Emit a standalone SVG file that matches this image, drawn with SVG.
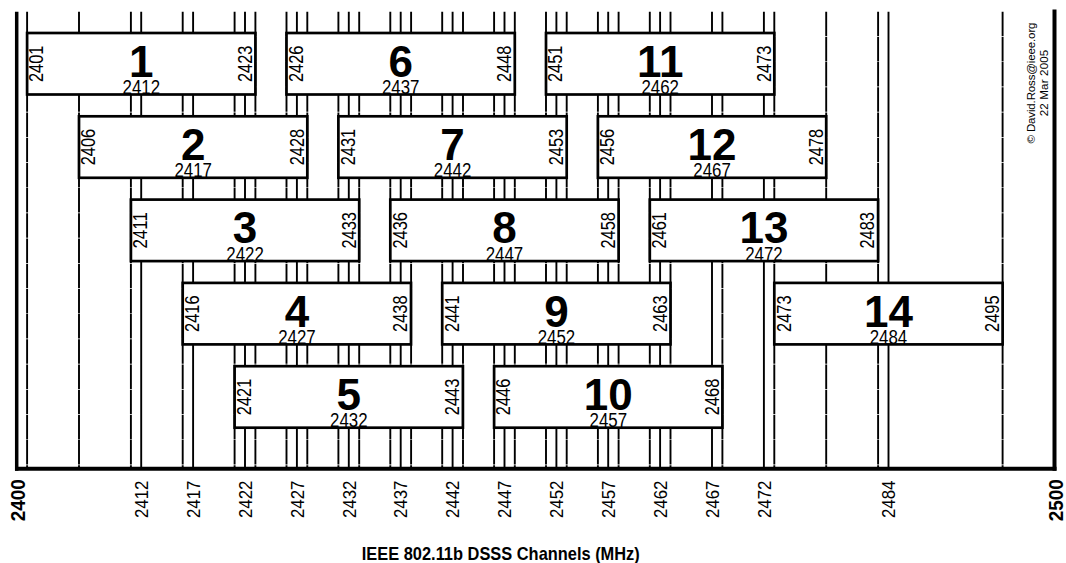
<svg xmlns="http://www.w3.org/2000/svg" width="1066" height="563" viewBox="0 0 1066 563">
<style>
  .g line{stroke:#000;stroke-width:1.9}
  .g .e{stroke-dasharray:24.5 0.7}
  .box{fill:#fff;stroke:#000;stroke-width:2.7}
  text{font-family:"Liberation Sans",Arial,sans-serif;fill:#000}
  .num{font-weight:bold;font-size:44px;text-anchor:middle}
  .lbl{font-size:20.5px;text-anchor:middle}
  .ax{font-size:18.6px;text-anchor:end}
  .axb{font-size:21px;font-weight:bold;text-anchor:end}
  .ttl{font-size:18.6px;font-weight:bold;text-anchor:middle}
  .cp{font-size:11.5px;text-anchor:middle}
</style>
<rect width="1066" height="563" fill="#fff"/>
<g id="gridlines" class="g">
  <line class="e" x1="27.1" y1="11.7" x2="27.1" y2="467"/>
  <line class="e" x1="79.0" y1="11.7" x2="79.0" y2="467"/>
  <line class="e" x1="130.9" y1="11.7" x2="130.9" y2="467"/>
  <line x1="141.2" y1="11.7" x2="141.2" y2="467"/>
  <line class="e" x1="182.7" y1="11.7" x2="182.7" y2="467"/>
  <line x1="193.1" y1="11.7" x2="193.1" y2="467"/>
  <line class="e" x1="234.6" y1="11.7" x2="234.6" y2="467"/>
  <line x1="245.0" y1="11.7" x2="245.0" y2="467"/>
  <line class="e" x1="255.4" y1="11.7" x2="255.4" y2="467"/>
  <line class="e" x1="286.5" y1="11.7" x2="286.5" y2="467"/>
  <line x1="296.9" y1="11.7" x2="296.9" y2="467"/>
  <line class="e" x1="307.3" y1="11.7" x2="307.3" y2="467"/>
  <line class="e" x1="338.4" y1="11.7" x2="338.4" y2="467"/>
  <line x1="348.8" y1="11.7" x2="348.8" y2="467"/>
  <line class="e" x1="359.2" y1="11.7" x2="359.2" y2="467"/>
  <line class="e" x1="390.3" y1="11.7" x2="390.3" y2="467"/>
  <line x1="400.7" y1="11.7" x2="400.7" y2="467"/>
  <line class="e" x1="411.1" y1="11.7" x2="411.1" y2="467"/>
  <line class="e" x1="442.2" y1="11.7" x2="442.2" y2="467"/>
  <line x1="452.6" y1="11.7" x2="452.6" y2="467"/>
  <line class="e" x1="463.0" y1="11.7" x2="463.0" y2="467"/>
  <line class="e" x1="494.1" y1="11.7" x2="494.1" y2="467"/>
  <line x1="504.5" y1="11.7" x2="504.5" y2="467"/>
  <line class="e" x1="514.8" y1="11.7" x2="514.8" y2="467"/>
  <line class="e" x1="546.0" y1="11.7" x2="546.0" y2="467"/>
  <line x1="556.4" y1="11.7" x2="556.4" y2="467"/>
  <line class="e" x1="566.7" y1="11.7" x2="566.7" y2="467"/>
  <line class="e" x1="597.9" y1="11.7" x2="597.9" y2="467"/>
  <line x1="608.2" y1="11.7" x2="608.2" y2="467"/>
  <line class="e" x1="618.6" y1="11.7" x2="618.6" y2="467"/>
  <line class="e" x1="649.8" y1="11.7" x2="649.8" y2="467"/>
  <line x1="660.1" y1="11.7" x2="660.1" y2="467"/>
  <line class="e" x1="670.5" y1="11.7" x2="670.5" y2="467"/>
  <line x1="712.0" y1="11.7" x2="712.0" y2="467"/>
  <line class="e" x1="722.4" y1="11.7" x2="722.4" y2="467"/>
  <line x1="763.9" y1="11.7" x2="763.9" y2="467"/>
  <line class="e" x1="774.3" y1="11.7" x2="774.3" y2="467"/>
  <line class="e" x1="826.2" y1="11.7" x2="826.2" y2="467"/>
  <line class="e" x1="878.1" y1="11.7" x2="878.1" y2="467"/>
  <line x1="888.5" y1="11.7" x2="888.5" y2="467"/>
  <line class="e" x1="1002.6" y1="11.7" x2="1002.6" y2="467"/>
</g>
<g id="axis">
  <line x1="16.7" y1="11.7" x2="16.7" y2="470.7" stroke="#000" stroke-width="3.5"/>
  <line x1="1054.5" y1="9.5" x2="1054.5" y2="470.7" stroke="#000" stroke-width="4"/>
  <line x1="15" y1="468.7" x2="1056.5" y2="468.7" stroke="#000" stroke-width="4"/>
  <text class="axb" transform="translate(25,479.3) rotate(-90)" textLength="42" lengthAdjust="spacingAndGlyphs">2400</text>
  <text class="ax" transform="translate(147.9,480.5) rotate(-90)" textLength="37.5" lengthAdjust="spacingAndGlyphs">2412</text>
  <text class="ax" transform="translate(199.8,480.5) rotate(-90)" textLength="37.5" lengthAdjust="spacingAndGlyphs">2417</text>
  <text class="ax" transform="translate(251.7,480.5) rotate(-90)" textLength="37.5" lengthAdjust="spacingAndGlyphs">2422</text>
  <text class="ax" transform="translate(303.6,480.5) rotate(-90)" textLength="37.5" lengthAdjust="spacingAndGlyphs">2427</text>
  <text class="ax" transform="translate(355.5,480.5) rotate(-90)" textLength="37.5" lengthAdjust="spacingAndGlyphs">2432</text>
  <text class="ax" transform="translate(407.4,480.5) rotate(-90)" textLength="37.5" lengthAdjust="spacingAndGlyphs">2437</text>
  <text class="ax" transform="translate(459.3,480.5) rotate(-90)" textLength="37.5" lengthAdjust="spacingAndGlyphs">2442</text>
  <text class="ax" transform="translate(511.2,480.5) rotate(-90)" textLength="37.5" lengthAdjust="spacingAndGlyphs">2447</text>
  <text class="ax" transform="translate(563.1,480.5) rotate(-90)" textLength="37.5" lengthAdjust="spacingAndGlyphs">2452</text>
  <text class="ax" transform="translate(614.9,480.5) rotate(-90)" textLength="37.5" lengthAdjust="spacingAndGlyphs">2457</text>
  <text class="ax" transform="translate(666.8,480.5) rotate(-90)" textLength="37.5" lengthAdjust="spacingAndGlyphs">2462</text>
  <text class="ax" transform="translate(718.7,480.5) rotate(-90)" textLength="37.5" lengthAdjust="spacingAndGlyphs">2467</text>
  <text class="ax" transform="translate(770.6,480.5) rotate(-90)" textLength="37.5" lengthAdjust="spacingAndGlyphs">2472</text>
  <text class="ax" transform="translate(895.2,480.5) rotate(-90)" textLength="37.5" lengthAdjust="spacingAndGlyphs">2484</text>
  <text class="axb" transform="translate(1063.3,479.3) rotate(-90)" textLength="42" lengthAdjust="spacingAndGlyphs">2500</text>
  <text class="ttl" x="500.8" y="560" textLength="278" lengthAdjust="spacingAndGlyphs">IEEE 802.11b DSSS Channels (MHz)</text>
</g>
<g id="credit">
  <text class="cp" transform="translate(1035,83) rotate(-90)" textLength="121" lengthAdjust="spacing">© David.Ross@ieee.org</text>
  <text class="cp" transform="translate(1048,83) rotate(-90)" textLength="66.5" lengthAdjust="spacing">22 Mar 2005</text>
</g>
<defs>
  <g id="boxshape"><rect class="box" x="0" y="0" width="228.3" height="61.5"/></g>
</defs>
<g id="ch1" transform="translate(27.1,33)"><use href="#boxshape"/><text class="num" x="114.2" y="43.8">1</text><text class="lbl" x="114.2" y="61.2" textLength="37.5" lengthAdjust="spacingAndGlyphs">2412</text><text class="lbl" transform="translate(16.3,30.75) rotate(-90)" textLength="36.5" lengthAdjust="spacingAndGlyphs">2401</text><text class="lbl" transform="translate(224.6,30.75) rotate(-90)" textLength="36.5" lengthAdjust="spacingAndGlyphs">2423</text></g>
<g id="ch2" transform="translate(79.0,116.3)"><use href="#boxshape"/><text class="num" x="114.2" y="43.8">2</text><text class="lbl" x="114.2" y="61.2" textLength="37.5" lengthAdjust="spacingAndGlyphs">2417</text><text class="lbl" transform="translate(16.3,30.75) rotate(-90)" textLength="36.5" lengthAdjust="spacingAndGlyphs">2406</text><text class="lbl" transform="translate(224.6,30.75) rotate(-90)" textLength="36.5" lengthAdjust="spacingAndGlyphs">2428</text></g>
<g id="ch3" transform="translate(130.9,199.6)"><use href="#boxshape"/><text class="num" x="114.2" y="43.8">3</text><text class="lbl" x="114.2" y="61.2" textLength="37.5" lengthAdjust="spacingAndGlyphs">2422</text><text class="lbl" transform="translate(16.3,30.75) rotate(-90)" textLength="36.5" lengthAdjust="spacingAndGlyphs">2411</text><text class="lbl" transform="translate(224.6,30.75) rotate(-90)" textLength="36.5" lengthAdjust="spacingAndGlyphs">2433</text></g>
<g id="ch4" transform="translate(182.7,282.9)"><use href="#boxshape"/><text class="num" x="114.2" y="43.8">4</text><text class="lbl" x="114.2" y="61.2" textLength="37.5" lengthAdjust="spacingAndGlyphs">2427</text><text class="lbl" transform="translate(16.3,30.75) rotate(-90)" textLength="36.5" lengthAdjust="spacingAndGlyphs">2416</text><text class="lbl" transform="translate(224.6,30.75) rotate(-90)" textLength="36.5" lengthAdjust="spacingAndGlyphs">2438</text></g>
<g id="ch5" transform="translate(234.6,366.2)"><use href="#boxshape"/><text class="num" x="114.2" y="43.8">5</text><text class="lbl" x="114.2" y="61.2" textLength="37.5" lengthAdjust="spacingAndGlyphs">2432</text><text class="lbl" transform="translate(16.3,30.75) rotate(-90)" textLength="36.5" lengthAdjust="spacingAndGlyphs">2421</text><text class="lbl" transform="translate(224.6,30.75) rotate(-90)" textLength="36.5" lengthAdjust="spacingAndGlyphs">2443</text></g>
<g id="ch6" transform="translate(286.5,33)"><use href="#boxshape"/><text class="num" x="114.2" y="43.8">6</text><text class="lbl" x="114.2" y="61.2" textLength="37.5" lengthAdjust="spacingAndGlyphs">2437</text><text class="lbl" transform="translate(16.3,30.75) rotate(-90)" textLength="36.5" lengthAdjust="spacingAndGlyphs">2426</text><text class="lbl" transform="translate(224.6,30.75) rotate(-90)" textLength="36.5" lengthAdjust="spacingAndGlyphs">2448</text></g>
<g id="ch7" transform="translate(338.4,116.3)"><use href="#boxshape"/><text class="num" x="114.2" y="43.8">7</text><text class="lbl" x="114.2" y="61.2" textLength="37.5" lengthAdjust="spacingAndGlyphs">2442</text><text class="lbl" transform="translate(16.3,30.75) rotate(-90)" textLength="36.5" lengthAdjust="spacingAndGlyphs">2431</text><text class="lbl" transform="translate(224.6,30.75) rotate(-90)" textLength="36.5" lengthAdjust="spacingAndGlyphs">2453</text></g>
<g id="ch8" transform="translate(390.3,199.6)"><use href="#boxshape"/><text class="num" x="114.2" y="43.8">8</text><text class="lbl" x="114.2" y="61.2" textLength="37.5" lengthAdjust="spacingAndGlyphs">2447</text><text class="lbl" transform="translate(16.3,30.75) rotate(-90)" textLength="36.5" lengthAdjust="spacingAndGlyphs">2436</text><text class="lbl" transform="translate(224.6,30.75) rotate(-90)" textLength="36.5" lengthAdjust="spacingAndGlyphs">2458</text></g>
<g id="ch9" transform="translate(442.2,282.9)"><use href="#boxshape"/><text class="num" x="114.2" y="43.8">9</text><text class="lbl" x="114.2" y="61.2" textLength="37.5" lengthAdjust="spacingAndGlyphs">2452</text><text class="lbl" transform="translate(16.3,30.75) rotate(-90)" textLength="36.5" lengthAdjust="spacingAndGlyphs">2441</text><text class="lbl" transform="translate(224.6,30.75) rotate(-90)" textLength="36.5" lengthAdjust="spacingAndGlyphs">2463</text></g>
<g id="ch10" transform="translate(494.1,366.2)"><use href="#boxshape"/><text class="num" x="114.2" y="43.8">10</text><text class="lbl" x="114.2" y="61.2" textLength="37.5" lengthAdjust="spacingAndGlyphs">2457</text><text class="lbl" transform="translate(16.3,30.75) rotate(-90)" textLength="36.5" lengthAdjust="spacingAndGlyphs">2446</text><text class="lbl" transform="translate(224.6,30.75) rotate(-90)" textLength="36.5" lengthAdjust="spacingAndGlyphs">2468</text></g>
<g id="ch11" transform="translate(546.0,33)"><use href="#boxshape"/><text class="num" x="114.2" y="43.8">11</text><text class="lbl" x="114.2" y="61.2" textLength="37.5" lengthAdjust="spacingAndGlyphs">2462</text><text class="lbl" transform="translate(16.3,30.75) rotate(-90)" textLength="36.5" lengthAdjust="spacingAndGlyphs">2451</text><text class="lbl" transform="translate(224.6,30.75) rotate(-90)" textLength="36.5" lengthAdjust="spacingAndGlyphs">2473</text></g>
<g id="ch12" transform="translate(597.9,116.3)"><use href="#boxshape"/><text class="num" x="114.2" y="43.8">12</text><text class="lbl" x="114.2" y="61.2" textLength="37.5" lengthAdjust="spacingAndGlyphs">2467</text><text class="lbl" transform="translate(16.3,30.75) rotate(-90)" textLength="36.5" lengthAdjust="spacingAndGlyphs">2456</text><text class="lbl" transform="translate(224.6,30.75) rotate(-90)" textLength="36.5" lengthAdjust="spacingAndGlyphs">2478</text></g>
<g id="ch13" transform="translate(649.8,199.6)"><use href="#boxshape"/><text class="num" x="114.2" y="43.8">13</text><text class="lbl" x="114.2" y="61.2" textLength="37.5" lengthAdjust="spacingAndGlyphs">2472</text><text class="lbl" transform="translate(16.3,30.75) rotate(-90)" textLength="36.5" lengthAdjust="spacingAndGlyphs">2461</text><text class="lbl" transform="translate(224.6,30.75) rotate(-90)" textLength="36.5" lengthAdjust="spacingAndGlyphs">2483</text></g>
<g id="ch14" transform="translate(774.3,282.9)"><use href="#boxshape"/><text class="num" x="114.2" y="43.8">14</text><text class="lbl" x="114.2" y="61.2" textLength="37.5" lengthAdjust="spacingAndGlyphs">2484</text><text class="lbl" transform="translate(16.3,30.75) rotate(-90)" textLength="36.5" lengthAdjust="spacingAndGlyphs">2473</text><text class="lbl" transform="translate(224.6,30.75) rotate(-90)" textLength="36.5" lengthAdjust="spacingAndGlyphs">2495</text></g>
</svg>
